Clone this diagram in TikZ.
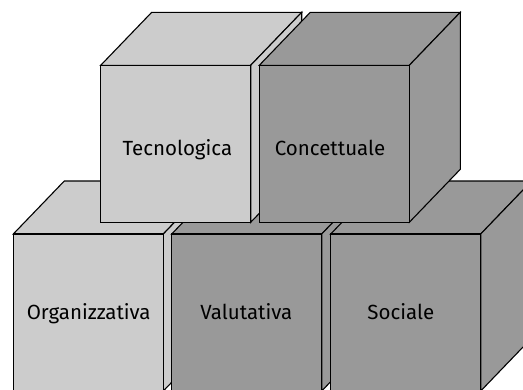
\documentclass[tikz,border=0pt]{standalone}
\usepackage{fontspec}
\setmainfont{Fira Sans}
\definecolor{lightcube}{HTML}{CCCCCC}
\definecolor{darkcube}{HTML}{999999}
\tikzset{
  face/.style={draw=black, line width=1.1pt, line join=miter},
  cubelabel/.style={font=\fontsize{20.5}{24}\selectfont, text=black, anchor=base, inner sep=0pt},
}
% #1 x, #2 y (front top-left), #3 colour, #4 name, #5 text, #6 text x, #7 text baseline y
\newcommand{\drawcube}[7]{%
  \fill[#3] (#1,#2) rectangle ++(150,157);
  \draw[face, fill=#3] (#1,#2) -- ++(51,-53) -- ++(150,0) -- ++(-51,53) -- cycle;
  \draw[face, fill=#3] (#1+150,#2) -- ++(51,-53) -- ++(0,157) -- ++(-51,53) -- cycle;
  \draw[face, fill=#3] (#1,#2) rectangle ++(150,157);
  \node[cubelabel] (#4) at (#6,#7) {#5};
}
\begin{document}
\begin{tikzpicture}[x=1pt,y=-1pt]
  \useasboundingbox (0,0) rectangle (523,389);
  \clip (0,0) rectangle (523,389);
  \drawcube{13.3}{234}{lightcube}{org}{Organizzativa}{88.7}{319.3}
  \drawcube{171.7}{234}{darkcube}{val}{Valutativa}{246.3}{319.3}
  \drawcube{330.7}{234}{darkcube}{soc}{Sociale}{400.8}{319.3}
  \drawcube{100.7}{65.3}{lightcube}{tec}{Tecnologica}{177.4}{155}
  \drawcube{259.3}{65.3}{darkcube}{con}{Concettuale}{330}{155}
\end{tikzpicture}
\end{document}
